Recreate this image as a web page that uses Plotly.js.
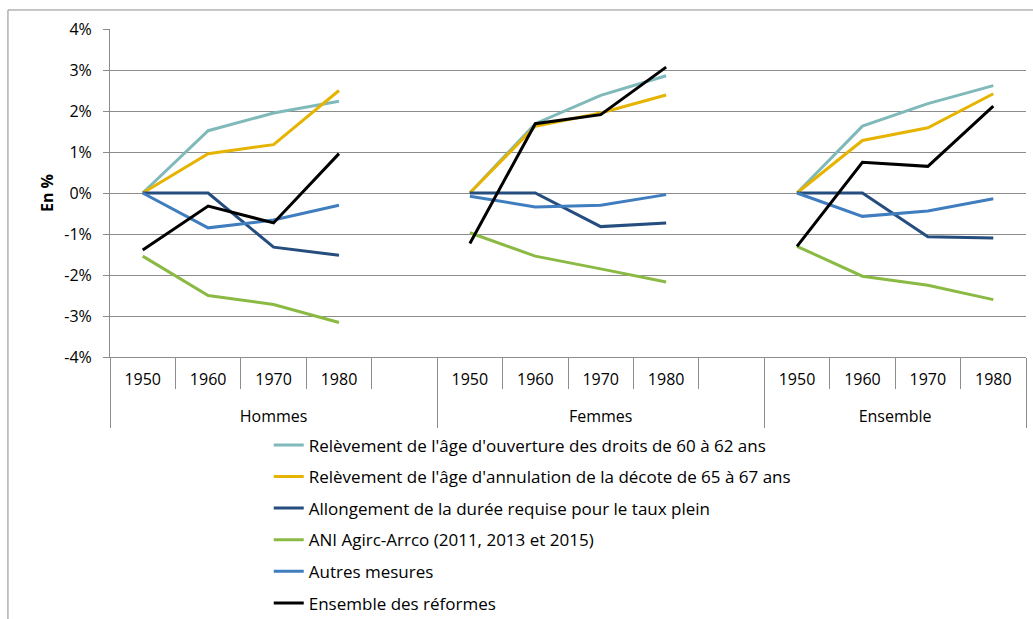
<!DOCTYPE html>
<html>
<head>
<meta charset="utf-8">
<script src="https://cdn.plot.ly/plotly-3.0.1.min.js"></script>
<style>
html,body{margin:0;padding:0;background:#fff;}
#chart{width:1033px;height:619px;}
</style>
</head>
<body>
<div id="chart"></div>
<script>
// Category levels
const groups = ["Hommes","Hommes","Hommes","Hommes","Hommes",
                "Femmes","Femmes","Femmes","Femmes","Femmes",
                "Ensemble","Ensemble","Ensemble","Ensemble"];
const years  = ["1950","1960","1970","1980"," ",
                "1950","1960","1970","1980"," ",
                "1950","1960","1970","1980"];

// Series (null = blank separator category)
const seriesNames = [
  "Relèvement de l'âge d'ouverture des droits de 60 à 62 ans",
  "Relèvement de l'âge d'annulation de la décote de 65 à 67 ans",
  "Allongement de la durée requise pour le taux plein",
  "ANI Agirc-Arrco (2011, 2013 et 2015)",
  "Autres mesures",
  "Ensemble des réformes"
];
const ouverture  = [0, 1.52, 1.95, 2.24, null, 0, 1.69, 2.38, 2.86, null, 0, 1.63, 2.18, 2.62];
const decote     = [0, 0.96, 1.18, 2.50, null, 0, 1.63, 1.95, 2.39, null, 0, 1.28, 1.59, 2.42];
const allongement= [0, 0, -1.32, -1.52, null, 0, 0, -0.82, -0.73, null, 0, 0, -1.07, -1.10];
const ani        = [-1.54, -2.50, -2.72, -3.16, null, -0.97, -1.54, -1.85, -2.17, null, -1.30, -2.03, -2.25, -2.60];
const autres     = [0, -0.85, -0.66, -0.30, null, -0.08, -0.34, -0.30, -0.04, null, 0, -0.57, -0.44, -0.14];
const ensemble   = [-1.39, -0.32, -0.73, 0.96, null, -1.23, 1.69, 1.91, 3.07, null, -1.30, 0.75, 0.65, 2.12];

const yTickVals = [-4,-3,-2,-1,0,1,2,3,4];
const yTickText = ["-4%","-3%","-2%","-1%","0%","1%","2%","3%","4%"];

const seriesValues = [ouverture, decote, allongement, ani, autres, ensemble];
const colors = ["#7FB9BA","#E6B400","#254E7F","#8BBA44","#3F7DBF","#000000"];

const FONT = "Open Sans, Liberation Sans, sans-serif";
const GRID = "#8C8C8C";

// group labels sit one line lower, as in the reference
const groupLabels = groups.map(g => "<br>" + g);

const traces = seriesValues.map((vals, i) => ({
  type: "scatter",
  mode: "lines",
  name: seriesNames[i],
  legendgroup: "g" + i,
  x: [groupLabels, years],
  y: vals,
  connectgaps: false,
  line: {color: colors[i], width: 3}
}));

const layout = {
  width: 1033, height: 619,
  margin: {l: 110, r: 7, t: 29, b: 262, autoexpand: false},
  paper_bgcolor: "#fff", plot_bgcolor: "#fff",
  font: {family: FONT, size: 15, color: "#000"},
  showlegend: true,
  legend: {
    x: 0.1733, xanchor: "left", y: -0.2145, yanchor: "top",
    orientation: "v", tracegroupgap: 6.5,
    font: {family: FONT, size: 17, color: "#000"},
    bgcolor: "rgba(0,0,0,0)", borderwidth: 0
  },
  xaxis: {
    type: "multicategory",
    range: [-0.5, 13.5],
    automargin: false,
    showgrid: false, zeroline: false,
    showline: true, linecolor: GRID, linewidth: 1,
    ticks: "outside", ticklen: 31, tickcolor: GRID, tickwidth: 1,
    ticklabelstandoff: 8,
    showdividers: true, dividercolor: GRID, dividerwidth: 1,
    tickfont: {family: FONT, size: 16, color: "#000"},
    fixedrange: true
  },
  yaxis: {
    range: [-4, 4],
    automargin: false,
    tickvals: yTickVals, ticktext: yTickText,
    showgrid: true, gridcolor: GRID, gridwidth: 1,
    zeroline: false,
    showline: true, linecolor: GRID, linewidth: 1,
    ticks: "outside", ticklen: 6, tickcolor: GRID,
    ticklabelstandoff: 8,
    tickfont: {family: FONT, size: 16, color: "#000"},
    title: {text: "<b>En %</b>", font: {family: FONT, size: 16, color: "#000"}, standoff: 6},
    fixedrange: true
  },
  shapes: [{
    type: "rect", xref: "paper", yref: "paper",
    x0: -0.1114, x1: 1.02, y0: -0.83, y1: 1.058,
    line: {color: GRID, width: 1}, fillcolor: "rgba(0,0,0,0)", layer: "below"
  }]
};

Plotly.newPlot("chart", traces, layout, {displayModeBar: false, staticPlot: true});
</script>
</body>
</html>
